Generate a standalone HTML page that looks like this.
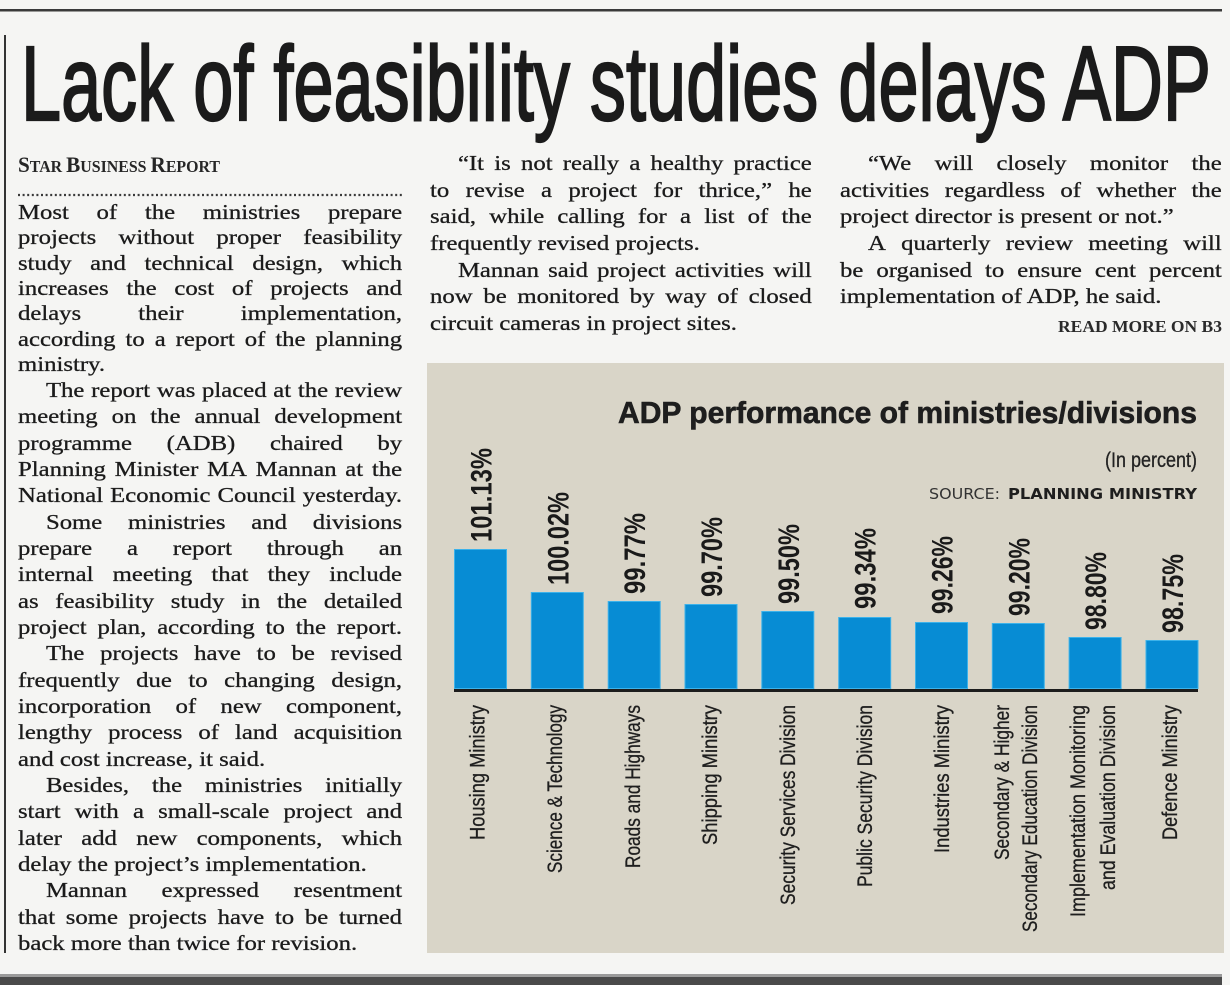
<!DOCTYPE html>
<html>
<head>
<meta charset="utf-8">
<style>
  html,body{margin:0;padding:0;background:#f5f5f3;}
  #page{position:relative;width:1230px;height:985px;overflow:hidden;background:#f5f5f3;}
  svg{position:absolute;left:0;top:0;}
  .col{position:absolute;top:0;transform-origin:0 0;transform:scaleX(1.15);
       font-family:"Liberation Serif","Times New Roman",serif;font-size:21.5px;line-height:21.5px;color:#1b1b1b;
       -webkit-text-stroke:0.3px #1b1b1b;}
  .l{position:absolute;left:0;right:0;height:21.5px;white-space:nowrap;}
  .j{display:flex;justify-content:space-between;}
  .j span{display:block;}
  .i{padding-left:24.3px;}
</style>
</head>
<body>
<div id="page">
<svg width="1230" height="985" viewBox="0 0 1230 985" xmlns="http://www.w3.org/2000/svg">
  <!-- rules -->
  <rect x="0" y="9" width="1222" height="2.5" fill="#3a3a3a"/>
  <rect x="4" y="35" width="2" height="918" fill="#333"/>
  <rect x="0" y="974" width="1222" height="3" fill="#9a9a9a"/>
  <rect x="0" y="977" width="1222" height="8" fill="#4a4a4a"/>

  <!-- headline -->
  <text x="21" y="120" font-family="'Liberation Sans',Arial,sans-serif" font-size="106" textLength="1190" lengthAdjust="spacingAndGlyphs" fill="#1b1b1b" stroke="#1b1b1b" stroke-width="2.2">Lack of feasibility studies delays ADP</text>

  <!-- byline -->
  <text x="18" y="172" font-family="'Liberation Serif',serif" font-weight="bold" fill="#262626" textLength="202" lengthAdjust="spacingAndGlyphs"><tspan font-size="22">S</tspan><tspan font-size="16.5">TAR </tspan><tspan font-size="22">B</tspan><tspan font-size="16.5">USINESS </tspan><tspan font-size="22">R</tspan><tspan font-size="16.5">EPORT</tspan></text>
  <line x1="18" y1="195" x2="402" y2="195" stroke="#3a3a3a" stroke-width="2.2" stroke-dasharray="2 2.6"/>

  <!-- read more -->
  <text x="1058" y="332" font-family="'Liberation Serif',serif" font-weight="bold" font-size="17" fill="#2a2a2a" textLength="164" lengthAdjust="spacingAndGlyphs">READ MORE ON B3</text>

  <!-- chart panel -->
  <rect x="427" y="363" width="797" height="590" fill="#d9d5c8"/>
  <text x="618" y="423" font-family="'Liberation Sans',Arial,sans-serif" font-weight="bold" font-size="31" fill="#1e1e1e" stroke="#1e1e1e" stroke-width="0.6" textLength="579" lengthAdjust="spacingAndGlyphs">ADP performance of ministries/divisions</text>
  <text x="1105" y="467" font-family="'Liberation Sans',Arial,sans-serif" font-size="21" fill="#222" stroke="#222" stroke-width="0.3" textLength="92" lengthAdjust="spacingAndGlyphs">(In percent)</text>
  <text x="929" y="499" font-family="'DejaVu Sans','Liberation Sans',sans-serif" font-size="15" fill="#333" textLength="71" lengthAdjust="spacingAndGlyphs">SOURCE:</text>
  <text x="1008" y="499" font-family="'DejaVu Sans','Liberation Sans',sans-serif" font-weight="bold" font-size="15" fill="#1e1e1e" textLength="189" lengthAdjust="spacingAndGlyphs">PLANNING MINISTRY</text>

  <!-- bars -->
  <g fill="#078cd4" stroke="#3cb2ea" stroke-width="1">
    <rect x="454.5" y="549.5" width="52" height="139"/>
    <rect x="531.3" y="592.5" width="52" height="96"/>
    <rect x="608.2" y="601.5" width="52" height="87"/>
    <rect x="685" y="604.5" width="52" height="84"/>
    <rect x="761.8" y="611.5" width="52" height="77"/>
    <rect x="838.7" y="617.5" width="52" height="71"/>
    <rect x="915.5" y="622.5" width="52" height="66"/>
    <rect x="992.3" y="623.5" width="52" height="65"/>
    <rect x="1069.1" y="637.5" width="52" height="51"/>
    <rect x="1146" y="640.5" width="52" height="48"/>
  </g>
  <rect x="454" y="689" width="744" height="3" fill="#1c1c1c"/>

  <!-- value labels -->
  <g font-family="'Liberation Sans',Arial,sans-serif" font-weight="bold" font-size="30" fill="#1a1a1a">
    <text transform="translate(491.5,542) rotate(-90)" textLength="94" lengthAdjust="spacingAndGlyphs">101.13%</text>
    <text transform="translate(568.3,585) rotate(-90)" textLength="93" lengthAdjust="spacingAndGlyphs">100.02%</text>
    <text transform="translate(645.2,594) rotate(-90)" textLength="81" lengthAdjust="spacingAndGlyphs">99.77%</text>
    <text transform="translate(722,597) rotate(-90)" textLength="80" lengthAdjust="spacingAndGlyphs">99.70%</text>
    <text transform="translate(798.8,604) rotate(-90)" textLength="80" lengthAdjust="spacingAndGlyphs">99.50%</text>
    <text transform="translate(875.7,609) rotate(-90)" textLength="81" lengthAdjust="spacingAndGlyphs">99.34%</text>
    <text transform="translate(952.5,614) rotate(-90)" textLength="78" lengthAdjust="spacingAndGlyphs">99.26%</text>
    <text transform="translate(1029.3,616) rotate(-90)" textLength="78" lengthAdjust="spacingAndGlyphs">99.20%</text>
    <text transform="translate(1106.1,630) rotate(-90)" textLength="78" lengthAdjust="spacingAndGlyphs">98.80%</text>
    <text transform="translate(1183,633) rotate(-90)" textLength="79" lengthAdjust="spacingAndGlyphs">98.75%</text>
  </g>

  <!-- category labels -->
  <g font-family="'Liberation Sans',Arial,sans-serif" font-size="21" fill="#1e1e1e" stroke="#1e1e1e" stroke-width="0.3" text-anchor="end">
    <text transform="translate(484.5,705) rotate(-90)" textLength="135" lengthAdjust="spacingAndGlyphs">Housing Ministry</text>
    <text transform="translate(562,705) rotate(-90)" textLength="168" lengthAdjust="spacingAndGlyphs">Science &amp; Technology</text>
    <text transform="translate(640,705) rotate(-90)" textLength="163" lengthAdjust="spacingAndGlyphs">Roads and Highways</text>
    <text transform="translate(717,705) rotate(-90)" textLength="140" lengthAdjust="spacingAndGlyphs">Shipping Ministry</text>
    <text transform="translate(795,705) rotate(-90)" textLength="200" lengthAdjust="spacingAndGlyphs">Security Services Division</text>
    <text transform="translate(872,705) rotate(-90)" textLength="182" lengthAdjust="spacingAndGlyphs">Public Security Division</text>
    <text transform="translate(949,705) rotate(-90)" textLength="148" lengthAdjust="spacingAndGlyphs">Industries Ministry</text>
    <text transform="translate(1009,705) rotate(-90)" textLength="155" lengthAdjust="spacingAndGlyphs">Secondary &amp; Higher</text>
    <text transform="translate(1037,705) rotate(-90)" textLength="227" lengthAdjust="spacingAndGlyphs">Secondary Education Division</text>
    <text transform="translate(1085,705) rotate(-90)" textLength="212" lengthAdjust="spacingAndGlyphs">Implementation Monitoring</text>
    <text transform="translate(1115,705) rotate(-90)" textLength="185" lengthAdjust="spacingAndGlyphs">and Evaluation Division</text>
    <text transform="translate(1177,705) rotate(-90)" textLength="135" lengthAdjust="spacingAndGlyphs">Defence Ministry</text>
  </g>
</svg>

<!-- Column 1 -->
<div class="col" style="left:18px;width:334px;height:985px;">
  <div class="l j" style="top:202px"><span>Most</span><span>of</span><span>the</span><span>ministries</span><span>prepare</span></div>
  <div class="l j" style="top:227.3px"><span>projects</span><span>without</span><span>proper</span><span>feasibility</span></div>
  <div class="l j" style="top:252.6px"><span>study</span><span>and</span><span>technical</span><span>design,</span><span>which</span></div>
  <div class="l j" style="top:277.9px"><span>increases</span><span>the</span><span>cost</span><span>of</span><span>projects</span><span>and</span></div>
  <div class="l j" style="top:303.2px"><span>delays</span><span>their</span><span>implementation,</span></div>
  <div class="l j" style="top:328.5px"><span>according</span><span>to</span><span>a</span><span>report</span><span>of</span><span>the</span><span>planning</span></div>
  <div class="l" style="top:353.7px">ministry.</div>
  <div class="l j i" style="top:380px"><span>The</span><span>report</span><span>was</span><span>placed</span><span>at</span><span>the</span><span>review</span></div>
  <div class="l j" style="top:406.4px"><span>meeting</span><span>on</span><span>the</span><span>annual</span><span>development</span></div>
  <div class="l j" style="top:432.7px"><span>programme</span><span>(ADB)</span><span>chaired</span><span>by</span></div>
  <div class="l j" style="top:459px"><span>Planning</span><span>Minister</span><span>MA</span><span>Mannan</span><span>at</span><span>the</span></div>
  <div class="l j" style="top:485.4px"><span>National</span><span>Economic</span><span>Council</span><span>yesterday.</span></div>
  <div class="l j i" style="top:511.7px"><span>Some</span><span>ministries</span><span>and</span><span>divisions</span></div>
  <div class="l j" style="top:538px"><span>prepare</span><span>a</span><span>report</span><span>through</span><span>an</span></div>
  <div class="l j" style="top:564.3px"><span>internal</span><span>meeting</span><span>that</span><span>they</span><span>include</span></div>
  <div class="l j" style="top:590.7px"><span>as</span><span>feasibility</span><span>study</span><span>in</span><span>the</span><span>detailed</span></div>
  <div class="l j" style="top:617px"><span>project</span><span>plan,</span><span>according</span><span>to</span><span>the</span><span>report.</span></div>
  <div class="l j i" style="top:643.3px"><span>The</span><span>projects</span><span>have</span><span>to</span><span>be</span><span>revised</span></div>
  <div class="l j" style="top:669.7px"><span>frequently</span><span>due</span><span>to</span><span>changing</span><span>design,</span></div>
  <div class="l j" style="top:696px"><span>incorporation</span><span>of</span><span>new</span><span>component,</span></div>
  <div class="l j" style="top:722.3px"><span>lengthy</span><span>process</span><span>of</span><span>land</span><span>acquisition</span></div>
  <div class="l" style="top:748.6px">and cost increase, it said.</div>
  <div class="l j i" style="top:775px"><span>Besides,</span><span>the</span><span>ministries</span><span>initially</span></div>
  <div class="l j" style="top:801.3px"><span>start</span><span>with</span><span>a</span><span>small-scale</span><span>project</span><span>and</span></div>
  <div class="l j" style="top:827.6px"><span>later</span><span>add</span><span>new</span><span>components,</span><span>which</span></div>
  <div class="l" style="top:854px">delay the project’s implementation.</div>
  <div class="l j i" style="top:880.3px"><span>Mannan</span><span>expressed</span><span>resentment</span></div>
  <div class="l j" style="top:906.6px"><span>that</span><span>some</span><span>projects</span><span>have</span><span>to</span><span>be</span><span>turned</span></div>
  <div class="l" style="top:933px">back more than twice for revision.</div>
</div>

<!-- Column 2 -->
<div class="col" style="left:430px;width:332px;height:400px;">
  <div class="l j i" style="top:153px"><span>“It</span><span>is</span><span>not</span><span>really</span><span>a</span><span>healthy</span><span>practice</span></div>
  <div class="l j" style="top:179.7px"><span>to</span><span>revise</span><span>a</span><span>project</span><span>for</span><span>thrice,”</span><span>he</span></div>
  <div class="l j" style="top:206.3px"><span>said,</span><span>while</span><span>calling</span><span>for</span><span>a</span><span>list</span><span>of</span><span>the</span></div>
  <div class="l" style="top:233px">frequently revised projects.</div>
  <div class="l j i" style="top:259.7px"><span>Mannan</span><span>said</span><span>project</span><span>activities</span><span>will</span></div>
  <div class="l j" style="top:286.3px"><span>now</span><span>be</span><span>monitored</span><span>by</span><span>way</span><span>of</span><span>closed</span></div>
  <div class="l" style="top:313px">circuit cameras in project sites.</div>
</div>

<!-- Column 3 -->
<div class="col" style="left:840px;width:332px;height:400px;">
  <div class="l j i" style="top:153px"><span>“We</span><span>will</span><span>closely</span><span>monitor</span><span>the</span></div>
  <div class="l j" style="top:179.7px"><span>activities</span><span>regardless</span><span>of</span><span>whether</span><span>the</span></div>
  <div class="l" style="top:206.3px">project director is present or not.”</div>
  <div class="l j i" style="top:233px"><span>A</span><span>quarterly</span><span>review</span><span>meeting</span><span>will</span></div>
  <div class="l j" style="top:259.7px"><span>be</span><span>organised</span><span>to</span><span>ensure</span><span>cent</span><span>percent</span></div>
  <div class="l" style="top:286.3px">implementation of ADP, he said.</div>
</div>
</div>
</body>
</html>
